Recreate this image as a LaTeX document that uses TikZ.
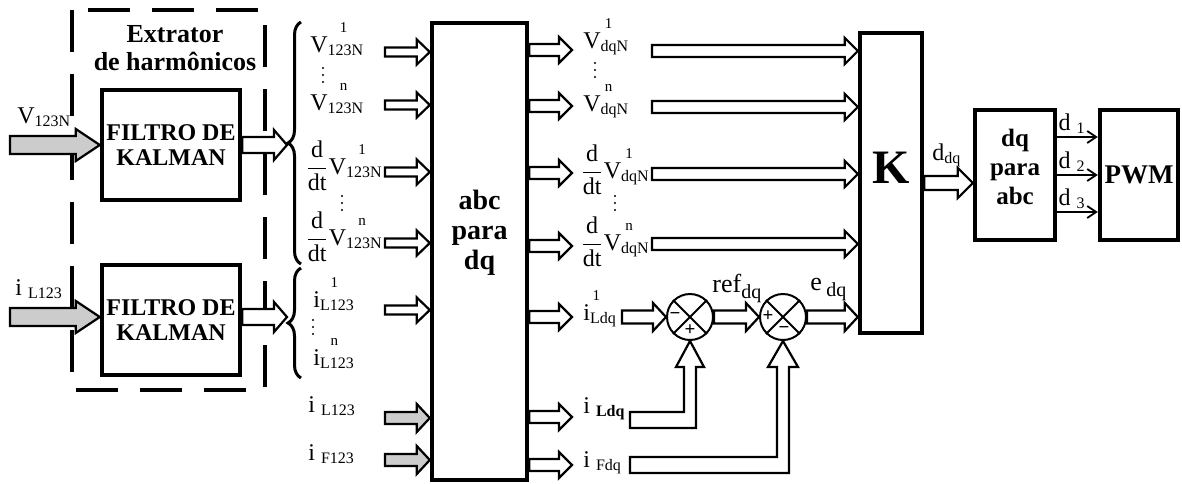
\documentclass[tikz,border=0pt]{standalone}
\usepackage{fontspec}
\setmainfont{Liberation Serif}
\usepackage{tikz}
\usetikzlibrary{arrows.meta,calc,positioning,decorations.pathreplacing}
\newcommand{\lbl}[3]{#1\textsubscript{#2}\llap{\raisebox{0.82em}{\fontsize{7.5}{7.5}\selectfont #3}\hspace{0.7em}}}
\newcommand{\ddt}{$\displaystyle\frac{\mbox{d}}{\mbox{dt}}$}
\newcommand{\bsub}[1]{\raisebox{-0.25em}{\fontsize{10}{10}\selectfont #1}}

\begin{document}
\begin{tikzpicture}[x=0.5pt, y=-0.5pt, font=\fontsize{12}{14}\selectfont]
    \tikzset{
      blk/.style={draw, line width=2.2pt, fill=white, inner sep=0pt},
      btxt/.style={font=\fontsize{12}{12.5}\selectfont\bfseries, align=center, inner sep=0pt},
      lab/.style={anchor=base west, inner sep=0pt},
      sumc/.style={draw, circle, line width=1pt, fill=white, minimum size=23pt, inner sep=0pt},
      sgn/.style={font=\fontsize{9.5}{9.5}\selectfont\bfseries, inner sep=0pt},
      fatline/.style={draw, line width=1.1pt, fill=white, line join=miter},
      fat/.style n args={3}{fatline, to path={let \p1=(\tikztostart), \p2=(\tikztotarget) in
        (\x1,\y1+#1*0.5pt) -- (\x2-#3*0.5pt,\y1+#1*0.5pt) -- (\x2-#3*0.5pt,\y1+#2*0.5pt) -- (\x2,\y1)
        -- (\x2-#3*0.5pt,\y1-#2*0.5pt) -- (\x2-#3*0.5pt,\y1-#1*0.5pt) -- (\x1,\y1-#1*0.5pt) -- cycle}},
      smallfat/.style={fat={4.5}{12.5}{13}},
      rowfat/.style={fat={6}{13}{13}},
      kalfat/.style={fat={8}{15}{13}},
      infat/.style={fat={9}{16}{24}, fill=gray!40},
      greyfat/.style={fat={6}{14}{13}, fill=gray!40},
      brc/.style={decorate, decoration={brace, amplitude=6.5pt}, line width=1.5pt},
      thinarr/.style={line width=0.9pt, -{Straight Barb[length=4.5pt, width=6pt]}}
    }
    \useasboundingbox (0,0) rectangle (1182,483);

    % extrator de harmonicos
    \draw[line width=2.3pt, dash pattern=on 21pt off 11pt] (72,10) rectangle (265,390);
    \node[btxt, font=\fontsize{13}{14}\selectfont\bfseries] (ext) at (175,48) {Extrator\\de harmônicos};
    \node[blk, btxt, minimum width=69pt, minimum height=55pt] (kal1) at (171,145) {FILTRO DE\\KALMAN};
    \node[blk, btxt, minimum width=69pt, minimum height=55pt] (kal2) at (171,320) {FILTRO DE\\KALMAN};

    % main blocks
    \node[blk, minimum width=47.5pt, minimum height=228.5pt] (abc) at (479.5,251.5) {};
    \node[btxt, font=\fontsize{14}{15}\selectfont\bfseries] (abct) at (479.5,233) {abc\\para\\dq};
    \node[blk, minimum width=31pt, minimum height=150pt] (K) at (891,183) {};
    \node[font=\fontsize{24}{24}\selectfont\bfseries, inner sep=0pt] (Kt) at (891,168) {K};
    \node[blk, minimum width=40pt, minimum height=65pt] (dqab) at (1015,175) {};
    \node[btxt, font=\fontsize{12.5}{14.5}\selectfont\bfseries] (dqabt) at (1015,167) {dq\\para\\abc};
    \node[blk, btxt, font=\fontsize{13.5}{14}\selectfont\bfseries, minimum width=39pt, minimum height=65pt] (pwm) at (1139,175) {PWM};
    \node[sumc] (s1) at (690,317) {};
    \node[sumc] (s2) at (783,317) {};
    \draw[line width=1pt] (s1.north west) -- (s1.south east) (s1.north east) -- (s1.south west);
    \draw[line width=1pt] (s2.north west) -- (s2.south east) (s2.north east) -- (s2.south west);
    \node[sgn] (s1m) at ($(s1.center)+(-15,-1)$) {−};
    \node[sgn] (s1p) at ($(s1.center)+(0,13)$) {+};
    \node[sgn] (s2p) at ($(s2.center)+(-15,-1)$) {+};
    \node[sgn] (s2m) at ($(s2.center)+(1,13)$) {−};

    % row coordinates
    \coordinate (in1) at (10,145);
    \coordinate (in2) at (10,317);
    \coordinate (br1) at (287,145);
    \coordinate (br2) at (287,317);
    \coordinate (k1w) at (kal1.west |- in1);
    \coordinate (k2w) at (kal2.west |- in2);
    \coordinate (k1e) at (kal1.east |- br1);
    \coordinate (k2e) at (kal2.east |- br2);
    \foreach \i/\y in {1/52,2/105,3/172,4/243,5/310,6/418,7/460} {
      \coordinate (a\i) at (385,\y);
      \coordinate (aw\i) at (abc.west |- a\i);
    }
    \foreach \i/\y in {1/50,2/106,3/173,4/246,5/317,6/417,7/465} {
      \coordinate (b\i) at (572,\y);
      \coordinate (be\i) at (abc.east |- b\i);
    }
    \foreach \i/\y in {1/51,2/107,3/174,4/244} {
      \coordinate (c\i) at (652,\y);
      \coordinate (kw\i) at (K.west |- c\i);
    }
    \coordinate (c5) at (622,317);
    \coordinate (kw5) at (K.west |- s2.east);
    \coordinate (s1w) at (s1.west);
    \coordinate (s1e) at (s1.east);
    \coordinate (s2w) at (s2.west);
    \coordinate (s2e) at (s2.east);
    \coordinate (ke) at (K.east);
    \coordinate (dqw) at (dqab.west |- K.east);
    \coordinate (g6) at (630,420);
    \coordinate (g7) at (630,465);

    % braces
    \draw[brc] (301,264) -- (301,22);
    \draw[brc] (301,378) -- (301,268);

    % fat arrows
    \draw[infat] (in1) to (k1w);
    \draw[infat] (in2) to (k2w);
    \draw[kalfat] (k1e) to (br1);
    \draw[kalfat] (k2e) to (br2);
    \foreach \i in {1,...,5}
      \draw[smallfat] (a\i) to (aw\i);
    \foreach \i in {6,7}
      \draw[greyfat] (a\i) to (aw\i);
    \foreach \i in {1,...,7}
      \draw[rowfat] (be\i) to (b\i);
    \foreach \i in {1,...,4}
      \draw[rowfat] (c\i) to (kw\i);
    \draw[fat={6.5}{14}{13}] (c5) to (s1w);
    \draw[fat={6.5}{14}{13}] (s1e) to (s2w);
    \draw[fat={6.5}{14}{13}] (s2e) to (kw5);
    \draw[fat={7}{15}{15}] (ke) to (dqw);
    \draw[fatline] ($(g6)+(0,-8)$) -- ($(s1.south |- g6)+(-6,-8)$) -- ($(s1.south)+(-6,26)$)
      -- ($(s1.south)+(-14,26)$) -- (s1.south) -- ($(s1.south)+(14,26)$) -- ($(s1.south)+(6,26)$)
      -- ($(s1.south |- g6)+(6,8)$) -- ($(g6)+(0,8)$) -- cycle;
    \draw[fatline] ($(g7)+(0,-8)$) -- ($(s2.south |- g7)+(-6,-8)$) -- ($(s2.south)+(-6,26)$)
      -- ($(s2.south)+(-15,26)$) -- (s2.south) -- ($(s2.south)+(15,26)$) -- ($(s2.south)+(6,26)$)
      -- ($(s2.south |- g7)+(6,8)$) -- ($(g7)+(0,8)$) -- cycle;
    \foreach \dy/\k in {-38/1,0/2,37/3} {
      \draw[thinarr] ($(dqab.east)+(0,\dy)$) -- ($(pwm.west)+(0,\dy)$);
      \node[lab] (d\k) at ($(dqab.east)+(1,\dy-7)$) {d~\textsubscript{\k}};
    }

    % labels
    \node[lab] (vin) at (17,123) {V\textsubscript{123N}};
    \node[lab] (iin) at (15,295) {i~\textsubscript{L123}};
    \node[lab] (l1) at (310,52) {\lbl{V}{123N}{1}};
    \node[lab] (l2) at (310,110) {\lbl{V}{123N}{n}};
    \node[lab] (l3) at (305,174) {\ddt\lbl{V}{123N}{1}};
    \node[lab] (l4) at (305,245) {\ddt\lbl{V}{123N}{n}};
    \node[lab] (l5) at (313,307) {\lbl{i}{L123}{1}};
    \node[lab] (l6) at (313,365) {\lbl{i}{L123}{n}};
    \node[lab] (l7) at (308,412) {i~\textsubscript{L123}};
    \node[lab] (l8) at (308,460) {i~\textsubscript{F123}};
    \node[lab] (r1) at (583,48) {\lbl{V}{dqN}{1}};
    \node[lab] (r2) at (583,111) {\lbl{V}{dqN}{n}};
    \node[lab] (r3) at (580,178) {\ddt\lbl{V}{dqN}{1}};
    \node[lab] (r4) at (580,250) {\ddt\lbl{V}{dqN}{n}};
    \node[lab] (r5) at (583,320) {\lbl{i}{Ldq}{1}};
    \node[lab] (r6) at (583,413) {i~\textsubscript{\textbf{Ldq}}};
    \node[lab] (r7) at (583,467) {i~\textsubscript{Fdq}};
    \node[lab, font=\fontsize{13}{14}\selectfont] (ref) at (712,292) {ref\bsub{dq}};
    \node[lab, font=\fontsize{13}{14}\selectfont] (edq) at (810,290) {e\,\bsub{dq}};
    \node[lab] (ddq) at (932,160) {d\textsubscript{dq}};
    \foreach \px/\py in {323/68,342/196,313/320,595/63,615/196}
      \foreach \k in {0,1,2}
        \fill (\px,\py+7*\k) circle (0.55pt);
  \end{tikzpicture}
\end{document}
